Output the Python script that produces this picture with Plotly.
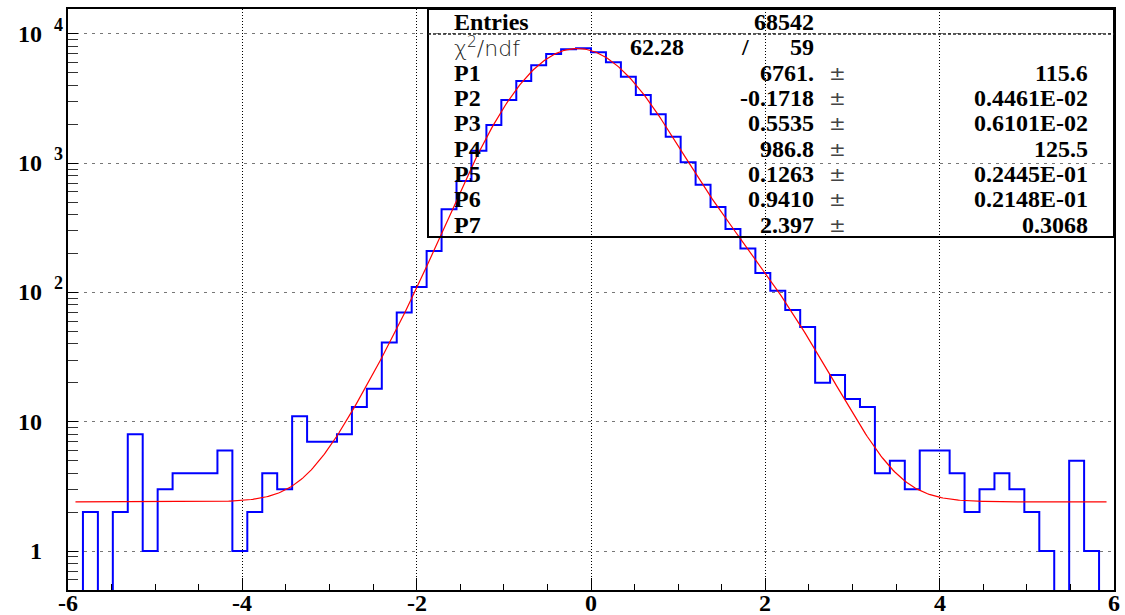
import numpy as np
import plotly.graph_objects as go

# ---------------- data ----------------
x_min, x_max = -6.0, 6.0
n_bins = 70
counts = [0, 2, 0, 2, 8, 1, 3, 4, 4, 4,
          6, 1, 2, 4, 3, 11, 7, 7, 8, 13,
          18, 41, 70, 110, 209, 439, 727, 1247, 1972, 3076,
          4315, 5705, 6982, 7586, 7727, 7194, 6022, 4660, 3363, 2384,
          1600, 1014, 681, 458, 309, 219, 141, 103, 73, 54,
          20, 23, 15, 13, 4, 5, 3, 6, 6, 4,
          2, 3, 4, 3, 2, 1, 0, 5, 1, 0]

fit_params = [6761.0, -0.1718, 0.5535, 986.8, 0.1263, 0.9410, 2.397]

entries_label = "Entries"
entries_value = "68542"
chi2_value = "62.28"
ndf_value = "59"
par_names = ["P1", "P2", "P3", "P4", "P5", "P6", "P7"]
par_values = ["6761.", "-0.1718", "0.5535", "986.8", "0.1263", "0.9410", "2.397"]
par_errors = ["115.6", "0.4461E-02", "0.6101E-02", "125.5", "0.2445E-01", "0.2148E-01", "0.3068"]

x_ticks = [-6, -4, -2, 0, 2, 4, 6]
y_ticks = [1, 10, 100, 1000, 10000]
y_minor = [m * 10 ** k for k in range(-1, 5) for m in range(2, 10)]

# ---------------- layout geometry (pixels) ----------------
W, H = 1125, 615
L, R, T, B = 68, 11, 9, 25
PW, PH = W - L - R, H - T - B


def px2x(px):
    return (px - L) / PW


def py2y(py):
    return (H - B - py) / PH


edges = np.linspace(x_min, x_max, n_bins + 1)
floor_val = 1e-2
hist_y = [c if c > 0 else floor_val for c in counts]
hist_y = hist_y + [hist_y[-1]]

half = (x_max - x_min) / n_bins / 2
xf = np.linspace(x_min + half, x_max - half, 600)
p = fit_params
yf = (p[0] * np.exp(-0.5 * ((xf - p[1]) / p[2]) ** 2)
      + p[3] * np.exp(-0.5 * ((xf - p[4]) / p[5]) ** 2) + p[6])

fig = go.Figure()
fig.add_trace(go.Scatter(x=edges, y=hist_y, mode="lines", line_shape="hv",
                         line=dict(color="#0000ff", width=2),
                         showlegend=False, hoverinfo="skip"))
fig.add_trace(go.Scatter(x=xf, y=yf, mode="lines",
                         line=dict(color="#ff0000", width=1.2),
                         showlegend=False, hoverinfo="skip"))
# invisible trace to activate the minor-tick overlay axis
fig.add_trace(go.Scatter(x=[edges[0]], y=[1], yaxis="y2", mode="markers",
                         opacity=0, showlegend=False, hoverinfo="skip"))

yrange = [-0.3016, 4.192]
SERIF = "Liberation Serif"
bold_font = dict(family=SERIF, size=24, color="black", weight="bold")
axis_font = dict(family=SERIF, size=24, color="black", weight="bold")

fig.update_layout(
    width=W, height=H,
    margin=dict(l=L, r=R, t=T, b=B, pad=0, autoexpand=False),
    paper_bgcolor="white", plot_bgcolor="white",
    xaxis=dict(range=[x_min, x_max], tickvals=x_ticks, showticklabels=False,
               automargin=False,
               ticks="inside", ticklen=12, tickwidth=1, tickcolor="black",
               minor=dict(dtick=0.5, tick0=-6, ticks="inside", ticklen=6,
                          tickcolor="black", showgrid=False),
               showline=True, linecolor="black", linewidth=2, mirror=True,
               showgrid=True, gridcolor="black", griddash="1px,2px", gridwidth=1,
               zeroline=False),
    yaxis=dict(type="log", range=yrange, tickvals=y_ticks, showticklabels=False,
               automargin=False,
               ticks="inside", ticklen=10, tickcolor="black",
               showline=True, linecolor="black", linewidth=2, mirror=True,
               showgrid=True, gridcolor="#777777", griddash="3px,5px", gridwidth=1,
               zeroline=False),
    yaxis2=dict(type="log", range=yrange, overlaying="y", side="left",
                automargin=False,
                tickvals=y_minor, showticklabels=False, ticks="inside",
                ticklen=10, tickcolor="#333333", showgrid=False, showline=False,
                zeroline=False),
)

annotations = []
# x tick labels
for v in x_ticks:
    annotations.append(dict(xref="x", yref="paper", x=v, y=py2y(603),
                            text=str(v), showarrow=False, xanchor="center",
                            yanchor="middle", font=axis_font))
# y tick labels
for v in y_ticks:
    k = int(round(np.log10(v)))
    base = "1" if k == 0 else "10"
    annotations.append(dict(xref="paper", yref="y", x=px2x(44), y=k,
                            text=base, showarrow=False, xanchor="right",
                            yanchor="middle", font=axis_font))
    if k >= 2:
        annotations.append(dict(xref="paper", yref="y", x=px2x(52), y=k,
                                yshift=9, text=str(k), showarrow=False,
                                xanchor="left", yanchor="middle",
                                font=dict(family=SERIF, size=18,
                                          color="black", weight="bold")))

# stats box
box_l, box_r, box_t, box_b = 428, W - R, T, 237
shapes = [
    dict(type="rect", xref="paper", yref="paper", x0=px2x(box_l), x1=px2x(box_r),
         y0=py2y(box_b), y1=py2y(box_t), line=dict(color="black", width=2),
         fillcolor="rgba(0,0,0,0)"),
    dict(type="line", xref="paper", yref="paper", x0=px2x(box_l), x1=px2x(box_r),
         y0=py2y(34), y1=py2y(34), line=dict(color="#222222", width=1.5, dash="3px,2px")),
]

label_x = 452
val_r = 816
pm_c = 837
err_r = 1090
row_y = [22, 47, 73, 98, 123, 149, 174, 199, 225]


def txt(px, py, s, anchor, font):
    annotations.append(dict(xref="paper", yref="paper", x=px2x(px), y=py2y(py),
                            text=s, showarrow=False, xanchor=anchor,
                            yanchor="middle", font=font))


txt(label_x, row_y[0], entries_label, "left", bold_font)
txt(val_r, row_y[0], entries_value, "right", bold_font)
txt(label_x, row_y[1], "χ<sup>2</sup>/ndf", "left",
    dict(family="DejaVu Sans", size=22, color="#222222", weight=300))
txt(628, row_y[1], chi2_value, "left", bold_font)
txt(745, row_y[1], "/", "center", bold_font)
txt(val_r, row_y[1], ndf_value, "right", bold_font)
for i, (n, v, e) in enumerate(zip(par_names, par_values, par_errors)):
    yy = row_y[i + 2]
    txt(label_x, yy, n, "left", bold_font)
    txt(val_r, yy, v, "right", bold_font)
    txt(pm_c, yy, "±", "center", dict(family="DejaVu Sans", size=20, color="#444444"))
    txt(err_r, yy, e, "right", bold_font)

fig.update_layout(annotations=annotations, shapes=shapes)
fig.write_html("out.html")
